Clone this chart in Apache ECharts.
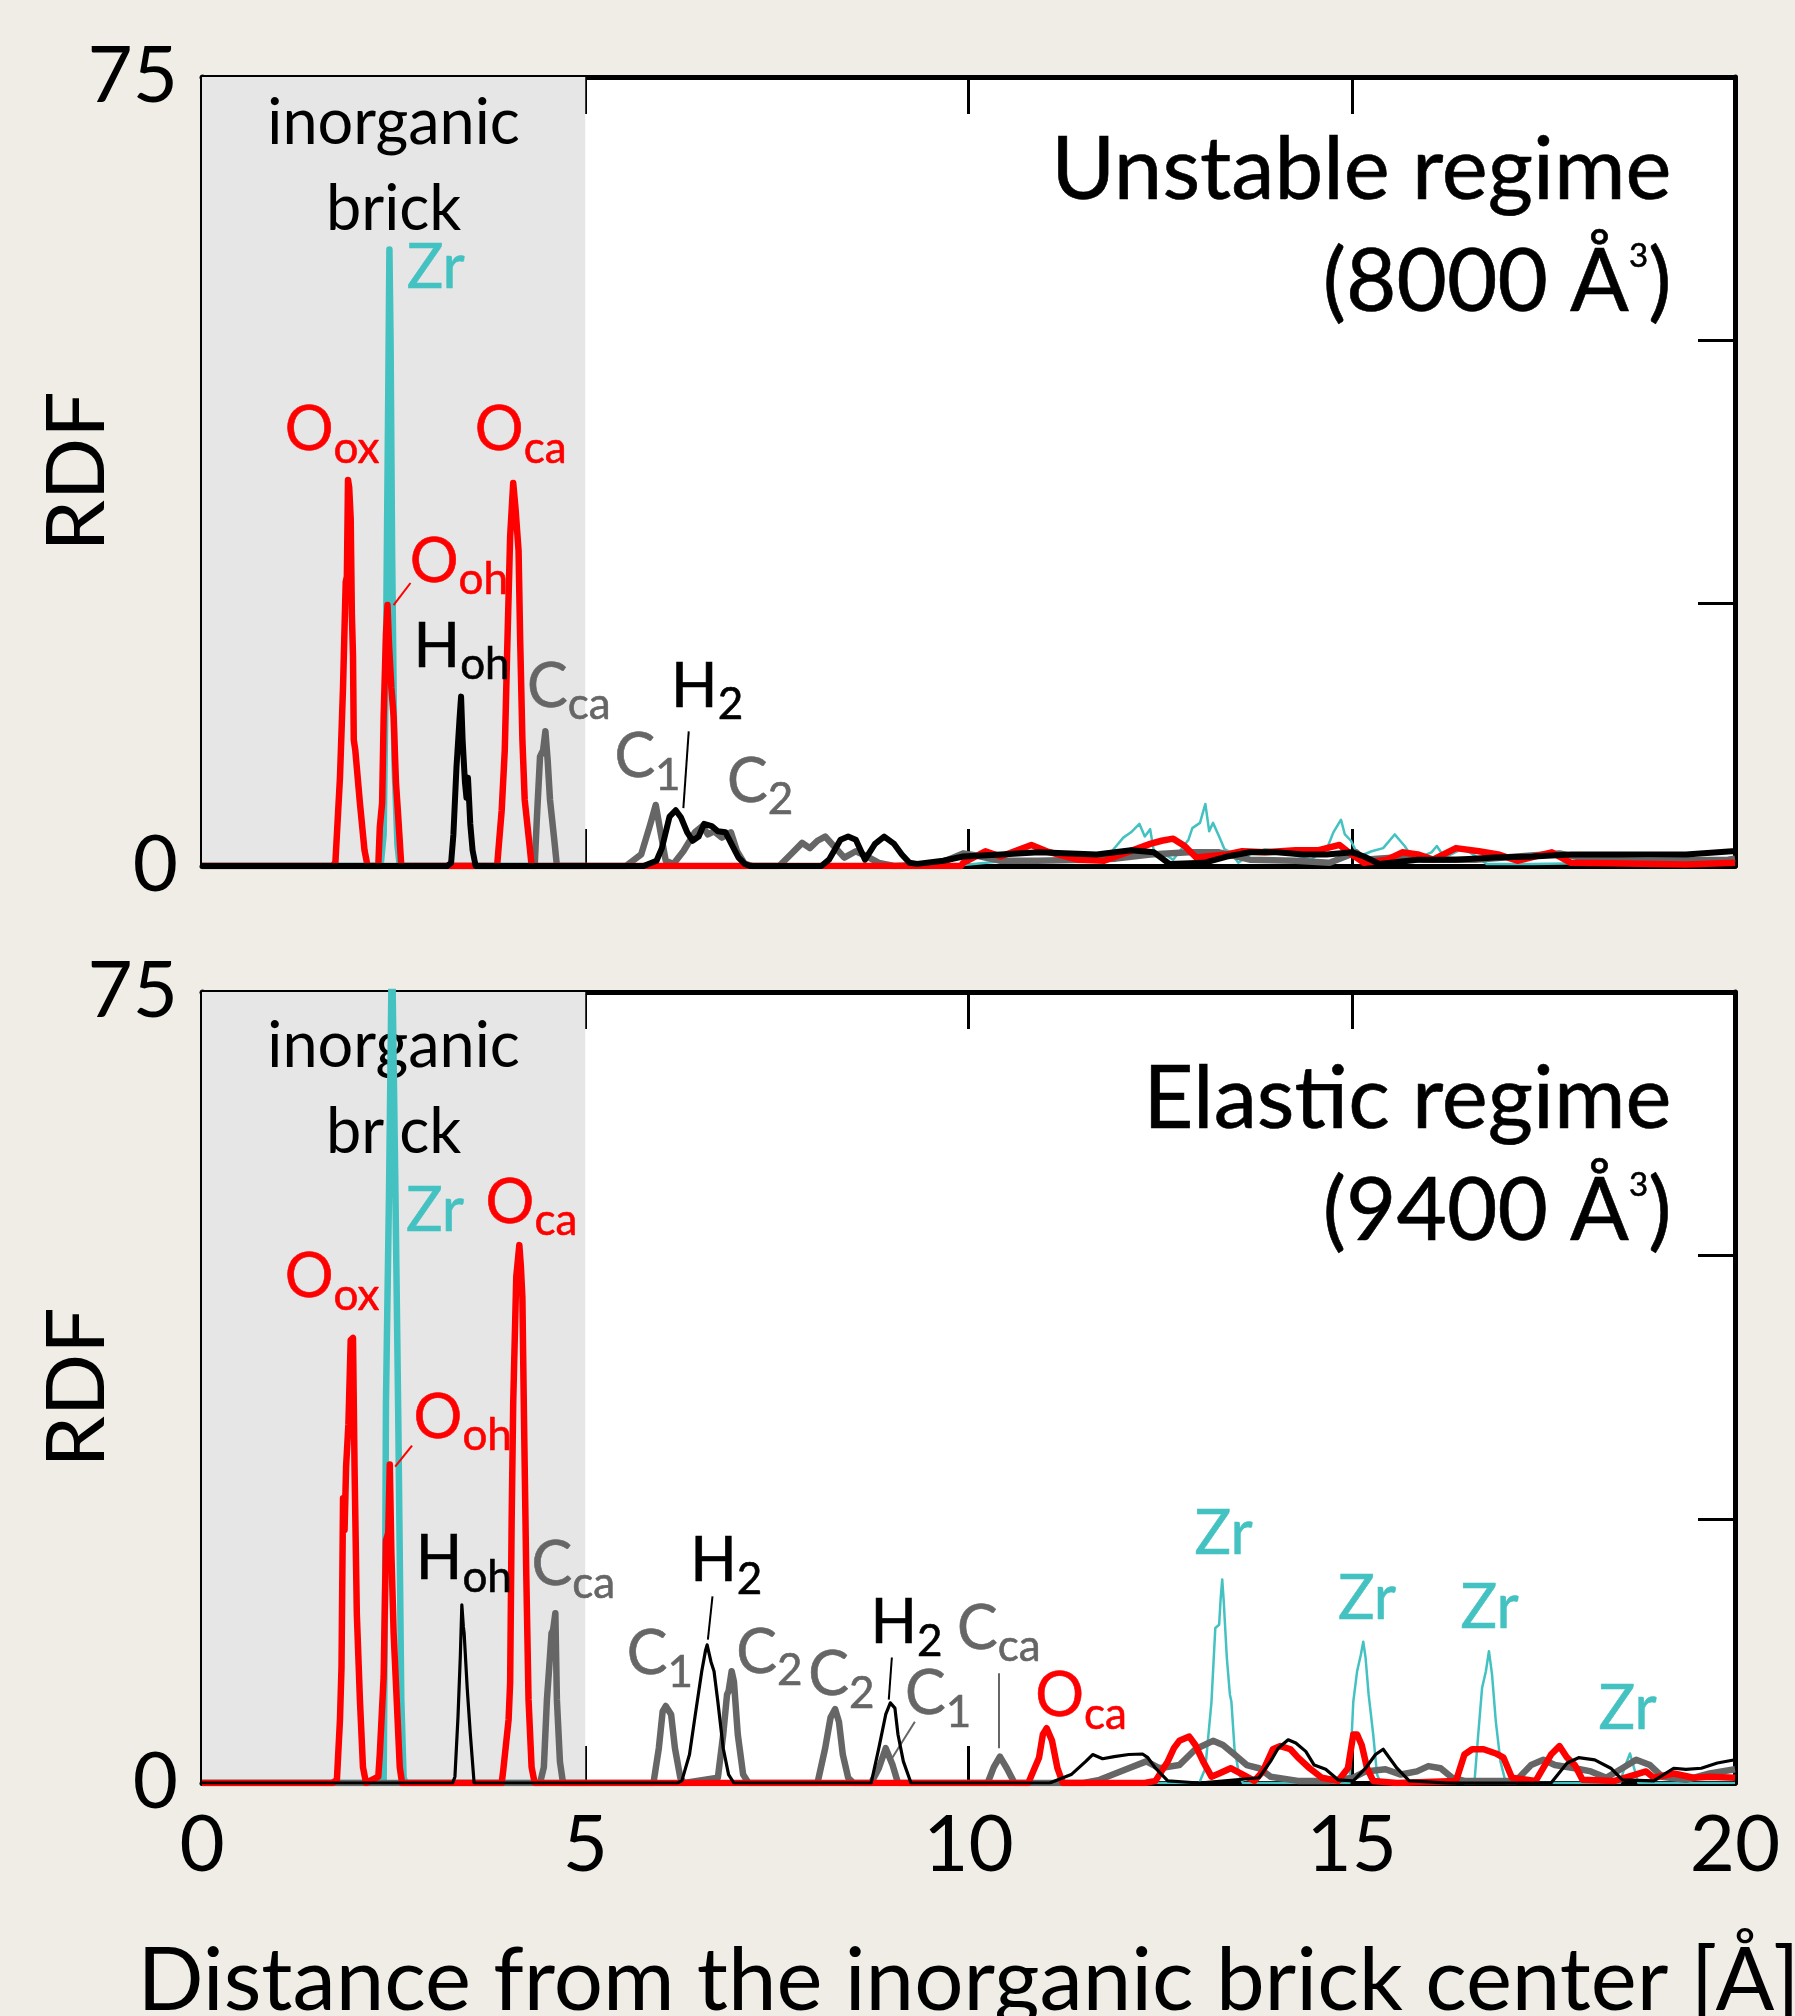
<!DOCTYPE html>
<html lang="en">
<head>
<meta charset="UTF-8">
<title>RDF</title>
<script src="https://cdn.jsdelivr.net/npm/echarts@6.0.0/dist/echarts.min.js"></script>
<style>
    html, body { margin: 0; padding: 0; background: #f0ede6; }
    #chart { width: 1795px; height: 2016px; }
</style>
</head>
<body>
<div id="chart"></div>
<script>
var TEAL = '#44c1c1', RED = '#ff0000', GREY = '#666666', BLACK = '#000000';
var FONT = 'Lato';

var xRange = [0, 20], xStep = 5;
var yRange = [0, 75], yStep = 25;
var yShownTicks = [0, 75];

// ---- top panel: unstable regime (8000 A^3) ----
var zrTop = [[0,0],[2.33,0],[2.37,3],[2.40,20],[2.43,45],[2.445,58.6],[2.46,50],[2.48,30],[2.51,10],[2.55,2],[2.58,0],[5,0]];
var zrFarTop = [[5,0],[9.8,0],[10.5,0.5],[11.3,0.4],[11.87,1.4],[12.02,2.7],[12.12,3.2],[12.23,4.0],[12.30,2.8],[12.37,3.5],[12.42,1.3],[12.52,1.3],[12.67,0.6],[12.87,2.5],[12.92,3.6],[13.02,4.1],[13.09,5.9],[13.14,3.3],[13.19,4.1],[13.27,2.8],[13.34,1.6],[13.42,1.3],[13.52,0.3],[13.67,1.1],[13.87,1.6],[14.12,1.3],[14.47,0.6],[14.69,1.9],[14.76,3.2],[14.86,4.4],[14.91,3.0],[14.99,2.4],[15.09,0.9],[15.26,1.4],[15.41,1.7],[15.56,3.0],[15.69,1.9],[15.81,0.6],[16.04,1.3],[16.11,1.9],[16.21,0.8],[16.46,1.7],[16.76,0.2],[17.36,0.2],[18.36,0.3],[19.86,0.5],[20,0.4]];
var oTop = [[0,0],[1.70,0],[1.74,0.3],[1.80,8.4],[1.84,17],[1.875,27],[1.89,27.5],[1.905,36.7],[1.92,36],[1.94,33],[1.955,24],[1.97,20],[1.98,12],[2.0,11],[2.06,6],[2.12,1.5],[2.16,0],[2.30,0],[2.32,3.7],[2.35,6],[2.37,14.2],[2.40,22],[2.42,24.8],[2.44,21],[2.47,17],[2.50,14.2],[2.53,8],[2.56,4.7],[2.60,0],[3.85,0],[3.91,5.3],[3.95,11],[3.98,20],[4.02,31.3],[4.06,36.4],[4.09,34],[4.13,30],[4.15,21.8],[4.18,12],[4.21,6.3],[4.28,1.5],[4.30,0],[9.9,0],[9.93,0.3],[10.22,1.4],[10.42,0.9],[10.82,2.0],[11.02,1.4],[11.42,0.6],[11.77,0.5],[12.37,2.1],[12.52,2.4],[12.67,2.6],[12.82,1.9],[12.97,0.8],[13.37,1.1],[13.57,1.4],[13.87,1.3],[14.27,1.5],[14.57,1.5],[14.84,2.0],[14.96,1.3],[15.16,0.3],[15.46,0.6],[15.66,1.3],[15.86,1.1],[16.06,0.6],[16.36,1.7],[16.66,1.4],[16.91,1.1],[17.16,0.5],[17.61,1.3],[17.86,0.3],[18.36,0.25],[19.36,0.15],[20,0.3]];
var cTop = [[0,0],[4.34,0],[4.37,4.7],[4.41,10.4],[4.45,11],[4.48,12.8],[4.51,10],[4.54,6.3],[4.60,2.2],[4.63,0],[5.53,0],[5.73,1.1],[5.85,4],[5.92,5.8],[5.98,3.3],[6.05,0.5],[6.15,0.2],[6.28,1.4],[6.43,3.2],[6.53,3.8],[6.60,3.0],[6.68,3.3],[6.78,2.7],[6.90,3.2],[6.98,1.4],[7.08,0.2],[7.18,0],[7.53,0],[7.68,1.1],[7.83,2.2],[7.93,1.7],[8.03,2.4],[8.13,2.8],[8.23,2.0],[8.38,0.8],[8.53,1.4],[8.68,0.9],[8.83,0.3],[9.03,0],[9.6,0.2],[9.93,1.2],[10.1,1.0],[10.42,0.5],[10.9,0.5],[11.5,0.6],[11.92,0.7],[12.37,1.1],[12.87,1.3],[13.27,1.3],[13.67,0.6],[14.27,0.5],[14.71,0.3],[15.06,1.3],[15.16,0.6],[15.56,0.8],[15.96,0.6],[16.61,0.6],[17.16,0.9],[17.71,1.2],[18.11,0.6],[18.86,0.5],[19.91,0.6],[20,0.7]];
var hTop = [[0,0],[3.20,0],[3.25,0.3],[3.28,3],[3.32,9.4],[3.36,14],[3.38,16.1],[3.40,12],[3.43,8],[3.45,6.5],[3.47,8.4],[3.50,4],[3.53,1.5],[3.57,0],[5.76,0],[5.93,0.5],[6.00,1.7],[6.10,4.7],[6.18,5.3],[6.25,4.6],[6.33,3.2],[6.40,2.4],[6.48,2.8],[6.55,4.0],[6.65,3.8],[6.73,3.3],[6.83,3.2],[6.90,2.2],[7.00,0.8],[7.08,0.2],[7.15,0],[8.08,0],[8.18,0.6],[8.33,2.5],[8.43,2.8],[8.53,2.5],[8.65,0.6],[8.78,2.1],[8.90,2.8],[9.03,2.1],[9.13,1.1],[9.23,0.3],[9.33,0.2],[9.67,0.5],[9.93,0.9],[10.42,1.1],[10.92,1.3],[11.67,1.1],[12.12,1.5],[12.42,1.3],[12.62,0.2],[13.07,0.3],[13.37,0.9],[13.67,1.3],[14.02,1.3],[14.37,1.1],[14.67,1.1],[15.01,1.3],[15.16,0.9],[15.36,0.2],[15.86,0.6],[16.36,0.6],[16.86,0.8],[17.36,0.9],[17.86,1.1],[18.61,1.1],[19.36,1.1],[19.96,1.4],[20,1.4]];

// ---- bottom panel: elastic regime (9400 A^3) ----
var zrBot = [[0,0],[2.30,0],[2.37,0.3],[2.39,20],[2.40,36],[2.44,56],[2.478,80],[2.52,58],[2.56,35],[2.60,8],[2.63,0.5],[2.66,0],[5,0]];
var zrFarBot = [[5,0],[12.9,0],[13.01,0],[13.09,1.4],[13.17,7.7],[13.22,14.7],[13.27,15.0],[13.29,17.5],[13.31,19.3],[13.33,17.2],[13.37,11.9],[13.41,8.4],[13.43,7.7],[13.47,3.3],[13.53,0.8],[13.58,0],[14.97,0],[15.02,7.7],[15.07,10.6],[15.12,12.2],[15.15,13.4],[15.18,11.9],[15.22,8.4],[15.28,4.6],[15.33,0.8],[15.38,0],[16.60,0],[16.65,4.6],[16.70,9.0],[16.75,10.6],[16.79,12.5],[16.83,10.3],[16.88,5.8],[16.94,2.05],[17.01,0],[18.50,0],[18.56,1.5],[18.63,2.8],[18.68,1.5],[18.74,0],[20,0]];
var oBot = [[0,0],[1.70,0],[1.76,0.3],[1.80,6],[1.82,11],[1.84,27],[1.86,24],[1.88,30],[1.91,34],[1.94,42],[1.97,42.2],[1.99,30],[2.02,16],[2.06,7.9],[2.10,1.5],[2.14,0],[2.30,0.6],[2.32,2.8],[2.37,10.1],[2.40,23],[2.43,23.7],[2.45,30.2],[2.47,22],[2.50,14.2],[2.54,7.9],[2.58,1.5],[2.61,0],[3.91,0],[3.93,1.2],[4.00,6],[4.02,9.5],[4.04,25],[4.06,36],[4.10,48],[4.14,51],[4.16,49],[4.18,46],[4.20,35],[4.23,20],[4.26,7.9],[4.30,1.5],[4.34,0],[10.78,0],[10.92,2.4],[10.97,4.6],[11.02,5.2],[11.09,4.0],[11.16,1.4],[11.23,0],[12.3,0],[12.44,0.2],[12.60,2.05],[12.68,3.3],[12.75,4.0],[12.88,4.4],[12.96,3.6],[13.06,2.05],[13.17,0.6],[13.27,0.9],[13.42,1.4],[13.58,0.8],[13.73,0.2],[13.84,1.1],[13.97,3.2],[14.07,3.5],[14.20,3.2],[14.30,2.4],[14.45,1.4],[14.61,0.5],[14.82,0.2],[14.95,1.4],[15.02,4.6],[15.07,4.6],[15.13,3.6],[15.20,1.4],[15.28,0.2],[15.59,0],[16.36,0.2],[16.47,2.7],[16.57,3.2],[16.72,3.2],[16.88,2.8],[16.98,2.4],[17.09,0.5],[17.40,0.2],[17.60,2.7],[17.71,3.5],[17.81,2.4],[17.91,1.7],[18.01,0.3],[18.43,0.2],[18.84,1.1],[18.94,0.5],[19.20,0.9],[19.46,0.5],[19.67,0.6],[20,0.5]];
var cBot = [[0,0],[4.41,0],[4.46,1.5],[4.50,7.9],[4.53,11],[4.56,14.2],[4.58,14.5],[4.61,16.1],[4.63,7.9],[4.67,2],[4.71,0],[5.89,0],[5.96,3.3],[6.01,6.8],[6.05,7.3],[6.12,6.5],[6.17,3.3],[6.24,0.5],[6.29,0],[6.73,0.5],[6.80,4.6],[6.85,8.4],[6.87,8.7],[6.91,10.6],[6.94,9.6],[6.99,4.6],[7.06,0.8],[7.13,0],[8.03,0],[8.13,3.3],[8.20,6.2],[8.26,7.0],[8.31,5.8],[8.36,2.7],[8.43,0.5],[8.50,0],[8.73,0],[8.83,1.4],[8.92,3.3],[9.01,1.7],[9.08,0],[10.25,0],[10.33,1.5],[10.41,2.5],[10.50,1.4],[10.60,0],[11.5,0],[11.71,0.3],[12.09,1.4],[12.32,2.05],[12.49,1.4],[12.75,1.7],[12.96,3.2],[13.19,4.0],[13.32,3.6],[13.47,2.7],[13.63,1.7],[13.79,1.4],[13.94,0.6],[14.30,0.2],[14.71,0.2],[15.02,0.5],[15.18,1.1],[15.44,1.3],[15.64,0.8],[15.85,1.1],[16.00,1.6],[16.16,1.4],[16.31,0.5],[16.47,0.2],[17.14,0.2],[17.34,1.7],[17.50,2.2],[17.65,1.7],[17.91,1.4],[18.12,1.1],[18.32,0.5],[18.53,1.4],[18.71,2.2],[18.89,1.7],[19.05,0.6],[19.36,0.3],[19.67,0.9],[20,1.3]];
var hBot = [[0,0],[3.27,0],[3.30,0.6],[3.34,6.3],[3.37,12],[3.39,16.9],[3.41,14.8],[3.42,14.2],[3.46,9],[3.50,4.7],[3.55,0],[6.20,0],[6.26,0.2],[6.36,2.7],[6.43,6.2],[6.52,10.6],[6.57,12.6],[6.59,13.1],[6.64,11.5],[6.68,10.6],[6.73,7.7],[6.80,3.3],[6.87,0.8],[6.94,0],[8.73,0],[8.83,3.3],[8.92,6.5],[8.98,7.6],[9.04,7.1],[9.08,4.6],[9.15,2.05],[9.25,0],[11.06,0],[11.34,0.8],[11.53,2.05],[11.62,2.7],[11.75,2.3],[11.90,2.5],[12.09,2.7],[12.27,2.75],[12.34,2.4],[12.44,1.4],[12.60,0.2],[13.01,0],[13.79,0.5],[13.94,2.05],[14.04,3.3],[14.17,4.1],[14.27,3.8],[14.40,3.0],[14.51,1.7],[14.66,1.3],[14.82,0.3],[15.02,0.2],[15.18,1.4],[15.31,2.7],[15.41,3.2],[15.49,2.4],[15.59,1.4],[15.75,0.2],[16.26,0],[17.60,0],[17.81,1.9],[17.96,2.4],[18.17,2.2],[18.38,1.4],[18.53,0.3],[18.94,0.2],[19.20,1.4],[19.36,1.3],[19.56,1.4],[19.77,1.9],[20,2.2]];

// peak labels: x, y (left edge, middle), letter, subscript, colour
var labelsTop = [
    [2.67, 56.8, 'Zr', '', TEAL],
    [1.08, 41.4, 'O', 'ox', RED],
    [3.56, 41.4, 'O', 'ca', RED],
    [2.71, 28.9, 'O', 'oh', RED],
    [2.76, 20.8, 'H', 'oh', BLACK],
    [4.24, 17.0, 'C', 'ca', GREY],
    [5.38, 10.3, 'C', '1', GREY],
    [6.12, 17.0, 'H', '2', BLACK],
    [6.85, 8.0, 'C', '2', GREY]
];
var labelsBot = [
    [2.66, 54.2, 'Zr', '', TEAL],
    [3.70, 55.0, 'O', 'ca', RED],
    [1.08, 47.9, 'O', 'ox', RED],
    [2.76, 34.6, 'O', 'oh', RED],
    [2.79, 21.2, 'H', 'oh', BLACK],
    [4.30, 20.6, 'C', 'ca', GREY],
    [5.54, 12.2, 'C', '1', GREY],
    [6.37, 21.0, 'H', '2', BLACK],
    [6.97, 12.3, 'C', '2', GREY],
    [7.91, 10.2, 'C', '2', GREY],
    [8.72, 15.1, 'H', '2', BLACK],
    [9.17, 8.4, 'C', '1', GREY],
    [9.85, 14.6, 'C', 'ca', GREY],
    [10.87, 8.2, 'O', 'ca', RED],
    [12.95, 23.6, 'Zr', '', TEAL],
    [14.82, 17.4, 'Zr', '', TEAL],
    [16.42, 16.6, 'Zr', '', TEAL],
    [18.22, 7.0, 'Zr', '', TEAL]
];
// leader lines: x1, y1, x2, y2, colour
var leadersTop = [[2.72, 26.9, 2.50, 24.8, RED], [6.35, 12.8, 6.28, 5.5, BLACK]];
var leadersBot = [[2.74, 32.0, 2.52, 30.0, RED], [6.66, 17.7, 6.60, 13.6, BLACK], [9.00, 11.9, 8.96, 7.9, BLACK], [9.30, 5.8, 8.99, 2.2, GREY], [10.40, 10.4, 10.40, 3.3, GREY]];

var regimeTop = ['Unstable regime', '8000'];
var regimeBot = ['Elastic regime', '9400'];
var brickText = 'inorganic\nbrick';
var brickRange = [0, 5];

var RICH = {
    m: { fontSize: 61, lineHeight: 72, fontFamily: FONT },
    s: { fontSize: 44, lineHeight: 30, padding: [36, 0, 0, 0], fontFamily: FONT },
    t: { fontSize: 87, lineHeight: 98, fontFamily: FONT, color: '#000' },
    sup: { fontSize: 33, lineHeight: 20, padding: [0, 0, 54, 0], fontFamily: FONT, color: '#000' }
};

function xAxisOf(grid, pos, withLabels, withName) {
    return {
        type: 'value', gridIndex: grid, position: pos, min: xRange[0], max: xRange[1], interval: xStep,
        axisLine: { show: true, onZero: false, lineStyle: { color: '#000', width: 5 } },
        axisTick: { show: true, inside: true, length: 37, lineStyle: { color: '#000', width: 3 } },
        axisLabel: { show: withLabels, fontSize: 78, fontFamily: FONT, color: '#000', margin: 24 },
        splitLine: { show: false },
        name: withName ? 'Distance from the inorganic brick center [Å]' : '',
        nameLocation: 'middle', nameGap: 155, nameMoveOverlap: false,
        nameTextStyle: { fontSize: 87, fontFamily: FONT, color: '#000' }
    };
}
function yAxisOf(grid, pos, withLabels) {
    return {
        type: 'value', gridIndex: grid, position: pos, min: yRange[0], max: yRange[1], interval: yStep,
        axisLine: { show: true, onZero: false, lineStyle: { color: '#000', width: 5 } },
        axisTick: { show: true, inside: true, length: 37, lineStyle: { color: '#000', width: 3 } },
        axisLabel: {
            show: withLabels, fontSize: 78, fontFamily: FONT, color: '#000', margin: 24,
            formatter: function (v) { return yShownTicks.indexOf(v) >= 0 ? String(v) : ''; }
        },
        splitLine: { show: false },
        name: withLabels ? 'RDF' : '', nameLocation: 'middle', nameGap: 83, nameMoveOverlap: false,
        nameTextStyle: { fontSize: 82, fontFamily: FONT, color: '#000' }
    };
}

function curve(grid, data, color, width, z) {
    return {
        type: 'line', xAxisIndex: grid * 2, yAxisIndex: grid * 2, data: data,
        showSymbol: false, symbol: 'none', silent: true, z: z,
        lineStyle: { color: color, width: width, join: 'round' }
    };
}

function shade(grid, dist) {
    return {
        type: 'line', xAxisIndex: grid * 2, yAxisIndex: grid * 2, data: [], silent: true, z: 1,
        markArea: {
            silent: true, itemStyle: { color: '#e6e6e6' },
            label: {
                show: true, position: 'insideTop', distance: dist, formatter: brickText,
                fontSize: 63, lineHeight: 86, fontFamily: FONT, color: '#000'
            },
            data: [[{ xAxis: brickRange[0] }, { xAxis: brickRange[1] }]]
        }
    };
}

function textLabel(color, align, f) {
    return {
        show: true, position: 'inside', align: align, verticalAlign: 'middle', color: color,
        textBorderColor: color, textBorderWidth: 0.6, formatter: f, rich: RICH
    };
}

function texts(grid, list, regime, yTitle, leaders) {
    var data = list.map(function (a) {
        var f = '{m|' + a[2] + '}' + (a[3] ? '{s|' + a[3] + '}' : '');
        return { value: [a[0], a[1]], label: textLabel(a[4], 'left', f) };
    });
    data.push({ value: [19.17, yTitle[0]], label: textLabel('#000', 'right', '{t|' + regime[0] + '}') });
    data.push({ value: [19.17, yTitle[1]], label: textLabel('#000', 'right', '{t|(' + regime[1] + ' Å}{sup|3}{t|)}') });
    return {
        type: 'scatter', xAxisIndex: grid * 2, yAxisIndex: grid * 2, symbolSize: 0, silent: true, z: 10,
        itemStyle: { opacity: 1 },
        data: data,
        markLine: {
            silent: true, symbol: 'none', animation: false, label: { show: false },
            data: leaders.map(function (l) {
                return [{ coord: [l[0], l[1]], lineStyle: { color: l[4], width: 2, type: 'solid', opacity: 1 } }, { coord: [l[2], l[3]] }];
            })
        }
    };
}

var chart = echarts.init(document.getElementById('chart'), null, { width: 1795, height: 2016 });
chart.setOption({
    animation: false,
    backgroundColor: '#f0ede6',
    textStyle: { fontFamily: FONT },
    grid: [
        { left: 202, top: 77, width: 1533, height: 789, show: true, backgroundColor: '#ffffff', borderWidth: 0, containLabel: false, outerBoundsMode: 'none' },
        { left: 202, top: 992, width: 1533, height: 791, show: true, backgroundColor: '#ffffff', borderWidth: 0, containLabel: false, outerBoundsMode: 'none' }
    ],
    xAxis: [xAxisOf(0, 'bottom', false, false), xAxisOf(0, 'top', false, false), xAxisOf(1, 'bottom', true, true), xAxisOf(1, 'top', false, false)],
    yAxis: [yAxisOf(0, 'left', true), yAxisOf(0, 'right', false), yAxisOf(1, 'left', true), yAxisOf(1, 'right', false)],
    series: [
        shade(0, 4),
        curve(0, zrTop, TEAL, 6.5, 2),
        curve(0, zrFarTop, TEAL, 2.5, 2),
        curve(0, cTop, GREY, 6.5, 3),
        curve(0, oTop, RED, 6.5, 4),
        curve(0, hTop, BLACK, 6, 5),
        texts(0, labelsTop, regimeTop, [66.1, 55.4], leadersTop),
        shade(1, 12),
        curve(1, zrBot, TEAL, 6.5, 2),
        curve(1, zrFarBot, TEAL, 2.5, 2),
        curve(1, cBot, GREY, 6.5, 3),
        curve(1, oBot, RED, 6.5, 4),
        curve(1, hBot, BLACK, 3.2, 5),
        texts(1, labelsBot, regimeBot, [64.8, 54.1], leadersBot)
    ]
});
</script>
</body>
</html>
